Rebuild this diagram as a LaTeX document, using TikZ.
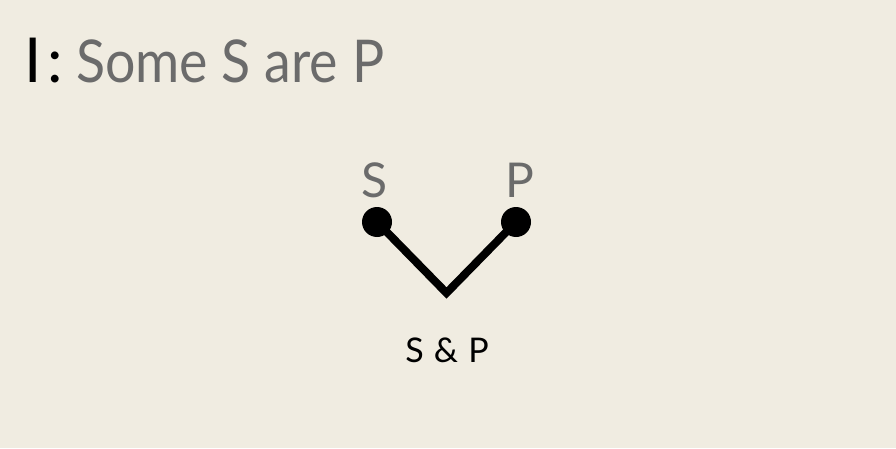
\documentclass[tikz,border=0pt]{standalone}
\usepackage{fontspec}
\setmainfont{Lato}
\definecolor{bg}{HTML}{F0ECE1}
\definecolor{txtgray}{HTML}{6B6B6B}
\begin{document}
\begin{tikzpicture}[x=1pt,y=1pt,
  dotnode/.style={circle,fill=black,inner sep=0pt,minimum size=30pt},
  biglabel/.style={text=txtgray,font=\fontsize{48}{48}\selectfont,inner sep=0pt,anchor=base},
  linkline/.style={line width=8pt,line join=miter}]
\fill[bg] (0,0) rectangle (896,448);
\useasboundingbox (0,0) rectangle (896,448);
\node[anchor=base west,inner sep=0pt,font=\fontsize{62}{62}\selectfont] (title) at (24,365)
  {I\kern0.1em:};
\node[anchor=base west,inner sep=0pt,font=\fontsize{59}{59}\selectfont,text=txtgray] (claim) at (76,365)
  {\scalebox{0.91}[1]{Some S are P}};
\node[dotnode] (s) at (377,226) {};
\node[dotnode] (p) at (516,226) {};
\coordinate (v) at (446.5,155);
\node[biglabel] (sl) at (375,251) {S};
\node[biglabel] (pl) at (520,251) {P};
\draw[linkline] (s.center) -- (v) -- (p.center);
\node[anchor=base,inner sep=0pt,font=\fontsize{34}{34}\selectfont] (sp) at (447,86) {S\hspace{0.3em}\&\hspace{0.3em}P};
\end{tikzpicture}
\end{document}
